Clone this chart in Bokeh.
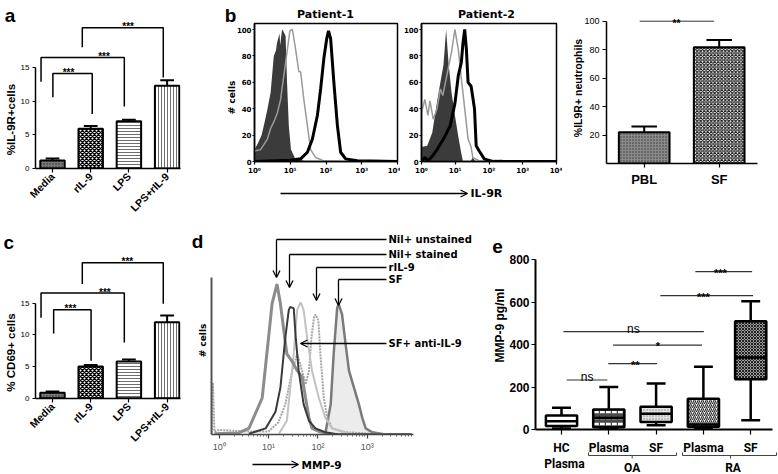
import math
from bokeh.plotting import figure
from bokeh.layouts import row, column
from bokeh.models import Range1d, FixedTicker, Label, Arrow, OpenHead, ColumnDataSource, GridBox
from bokeh.core.properties import value
from bokeh.embed import file_html
from bokeh.resources import INLINE

# ======================= DATA =======================
stim_categories = ["Media", "rIL-9", "LPS", "LPS+rIL-9"]
il9r_pct = [1.2, 5.9, 7.0, 12.3]
il9r_sem = [0.3, 0.4, 0.25, 0.8]
cd69_pct = [0.85, 5.0, 5.8, 12.0]
cd69_sem = [0.2, 0.25, 0.3, 1.05]

# significance brackets: (left x, right x, top y, left-leg end y, right-leg end y, label x)
il9r_brackets = [
    (0.01, 1.04, 14.1, 10.6, 8.1, 0.42),
    (-0.30, 1.88, 16.5, 12.9, 9.2, 1.35),
    (0.78, 2.90, 20.9, 18.0, 13.5, 1.98),
]
cd69_brackets = [
    (0.03, 1.01, 13.95, 10.2, 5.9, 0.47),
    (-0.30, 1.88, 16.6, 12.7, 8.8, 1.37),
    (0.78, 2.90, 21.4, 18.05, 14.9, 1.96),
]
bracket_labels = ["***", "***", "***"]

neut_categories = ["PBL", "SF"]
neut_pct = [22.2, 81.8]
neut_sem = [4.0, 5.1]
neut_sig = (-0.06, 0.93, 100.0, 0.43, "**")

decade_ticks = [1, 10, 100, 1000, 10000]
decade_labels = ["10⁰", "10¹", "10²", "10³", "10⁴"]

# Patient-1 IL-9R histograms (log10 fluorescence, % of max)
p1_iso_log = [0.0, 0.1, 0.2, 0.26, 0.35, 0.45, 0.54, 0.6, 0.63, 0.7, 0.72, 0.77, 0.8, 0.87, 0.91, 0.96, 1.02, 1.14, 1.47]
p1_iso_pct = [9, 14, 20, 27, 38, 52, 80, 84, 90, 97, 88, 100, 99, 95, 60, 27, 9, 2, 0]
p1_unst_log = [0.0, 0.17, 0.36, 0.45, 0.54, 0.64, 0.73, 0.82, 0.92, 0.99, 1.06, 1.15, 1.24, 1.29, 1.38, 1.48, 1.57, 1.71, 1.94, 2.4]
p1_unst_pct = [8, 9, 17, 25, 30, 37, 47, 65, 85, 99, 100, 85, 68, 68, 47, 27, 9, 3, 0.5, 0]
p1_il9r_log = [0.0, 1.0, 1.29, 1.48, 1.62, 1.76, 1.85, 1.94, 2.02, 2.07, 2.13, 2.22, 2.32, 2.41, 2.55, 2.88, 4.0]
p1_il9r_pct = [0, 1, 2, 7, 17, 35, 55, 78, 93, 99, 93, 60, 27, 7, 2, 0.5, 0]

# Patient-2 IL-9R histograms
p2_iso_log = [0.0, 0.17, 0.32, 0.46, 0.56, 0.65, 0.73, 0.8, 0.89, 0.99, 1.09, 1.18, 1.23, 1.45, 1.52, 1.6]
p2_iso_pct = [11, 12, 22, 45, 60, 73, 100, 75, 52, 35, 19, 6, 0, 0, 3, 0]
p2_unst_log = [0.0, 0.1, 0.19, 0.25, 0.35, 0.46, 0.56, 0.63, 0.75, 0.89, 0.99, 1.09, 1.18, 1.28, 1.38, 1.47, 1.52, 1.71, 2.38, 2.5]
p2_unst_pct = [37, 47, 35, 46, 32, 40, 55, 50, 65, 83, 100, 85, 63, 40, 17, 11, 3, 0.5, 1, 0]
p2_il9r_log = [0.0, 0.1, 0.19, 0.32, 0.46, 0.65, 0.85, 0.99, 1.09, 1.18, 1.23, 1.28, 1.33, 1.38, 1.47, 1.57, 1.62, 1.71, 1.86, 2.1, 4.0]
p2_il9r_pct = [0, 3, 0.5, 4, 9, 17, 27, 44, 65, 75, 90, 100, 85, 60, 57, 40, 12, 8, 2, 0, 0]

# MMP-9 histograms (log10 fluorescence, % of max)
mmp_unst_log = [-0.1, 0.39, 0.6, 0.87, 1.0, 1.07, 1.17, 1.24, 1.31, 1.37, 1.48, 1.58, 1.68, 1.75, 1.82, 1.88, 2.02, 2.29, 3.9]
mmp_unst_pct = [0.5, 1, 4, 24, 64, 86, 99, 86, 68, 53, 48, 42, 38, 24, 11, 4, 2, 0, 0]
mmp_stain_log = [0.6, 0.94, 1.14, 1.24, 1.34, 1.41, 1.44, 1.51, 1.55, 1.61, 1.71, 1.82, 1.95, 2.15, 2.42, 3.9]
mmp_stain_pct = [0.5, 4, 15, 31, 64, 82, 84, 83, 64, 42, 20, 9, 4, 1.5, 0, 0]
mmp_ril9_log = [-0.16, -0.13, -0.1, 0.0, 0.5, 1.0, 1.2, 1.34, 1.48, 1.58, 1.68, 1.75, 1.82, 1.87, 1.92, 1.95, 2.01, 2.05, 2.12, 2.19, 2.29, 2.56, 3.1, 3.78]
mmp_ril9_pct = [1, 34, 2, 3, 2, 2, 8, 20, 42, 53, 42, 33, 42, 64, 77, 79, 75, 53, 24, 11, 4, 1.5, 0.5, 0]
mmp_anti_log = [1.21, 1.37, 1.44, 1.51, 1.58, 1.65, 1.71, 1.78, 1.88, 2.02, 2.15, 2.29, 2.56, 2.8]
mmp_anti_pct = [0.5, 9, 31, 53, 82, 87, 82, 64, 42, 24, 11, 4, 1, 0]
mmp_sf_log = [2.15, 2.26, 2.32, 2.39, 2.42, 2.49, 2.56, 2.63, 2.73, 2.83, 2.9, 2.97, 3.1, 3.37]
mmp_sf_pct = [0.5, 20, 53, 83, 86, 79, 60, 42, 31, 20, 11, 4, 1.5, 0]
mmp_callouts = ["Nil+ unstained", "Nil+ stained", "rIL-9", "SF", "SF+ anti-IL-9"]

# MMP-9 pg/ml box plot
mmp9_groups = ["HC Plasma", "OA Plasma", "OA SF", "RA Plasma", "RA SF"]
mmp9_tick_labels = ["HC", "Plasma", "SF", "Plasma", "SF"]
mmp9_min = [5, 3, 20, 3, 43]
mmp9_q1 = [16, 11, 35, 13, 236]
mmp9_med = [39, 55, 74, 24, 339]
mmp9_q3 = [66, 94, 107, 145, 509]
mmp9_max = [102, 200, 216, 295, 603]
# (left x, right x, y, label, label x)
mmp9_sig = [
    (0.11, 0.97, 233, "ns", 0.54),
    (0.99, 2.02, 310, "**", 1.56),
    (1.09, 2.97, 397, "*", 2.04),
    (0.04, 3.01, 461, "ns", 1.52),
    (2.09, 4.05, 630, "***", 3.00),
    (2.83, 4.03, 743, "***", 3.36),
]

# ======================= LAYOUT HELPERS =======================
PW, PH = 778, 474
FONT = "Liberation Sans"
FLOW = "DejaVu Sans"


def no_align(f):
    try:
        f.frame_align = False
    except AttributeError:
        pass


class Panel:
    def __init__(self, L, T, W, H, frame, xmap, ymap, xlog=False):
        fl, ft, fr, fb = [int(round(v)) for v in frame]
        x0, x1 = xmap(fl), xmap(fr)
        y0, y1 = ymap(fb), ymap(ft)
        kw = {}
        if xlog:
            kw["x_axis_type"] = "log"
            xr = Range1d(10 ** x0, 10 ** x1)
        else:
            xr = Range1d(x0, x1)
        f = figure(width=W, height=H, x_range=xr, y_range=Range1d(y0, y1),
                   output_backend="svg", toolbar_location=None,
                   min_border_left=fl - L, min_border_right=L + W - fr,
                   min_border_top=ft - T, min_border_bottom=T + H - fb, **kw)
        no_align(f)
        f.grid.visible = False
        f.outline_line_color = None
        f.background_fill_color = "white"
        f.border_fill_color = "white"
        for ax in (f.xaxis[0], f.yaxis[0]):
            ax.axis_line_color = "black"
            ax.axis_line_width = 1.5
            ax.major_tick_line_color = "black"
            ax.major_tick_line_width = 1.2
            ax.major_tick_in = 0
            ax.minor_tick_line_color = None
            ax.major_label_text_font = FONT
            ax.major_label_text_color = "black"
        self.fig = f


# overlay figure for all free text / arrows (page pixel coordinates)
ov = figure(width=PW, height=PH, x_range=Range1d(0, PW), y_range=Range1d(0, PH),
            x_axis_location=None, y_axis_location=None, toolbar_location=None,
            output_backend="svg", min_border_left=0, min_border_right=0,
            min_border_top=0, min_border_bottom=0)
no_align(ov)
ov.grid.visible = False
ov.outline_line_color = None
ov.background_fill_alpha = 0
ov.border_fill_alpha = 0


def T(s, x, y, size, font=FONT, bold=True, angle=0.0, align="center", baseline="middle", color="black"):
    ov.text(x=[x], y=[PH - y], text=[s], text_font=value(font), text_font_size=value(f"{size}px"),
            text_font_style=value("bold" if bold else "normal"), angle=angle,
            text_align=value(align), text_baseline=value(baseline), text_color=color)


def A(x0, y0, x1, y1, head=True, w=1.3, color="black"):
    ov.add_layout(Arrow(x_start=x0, y_start=PH - y0, x_end=x1, y_end=PH - y1, start=None,
                        end=OpenHead(size=7, line_width=w, line_color=color) if head else None,
                        line_width=w, line_color=color))


def sig_label(f, x, y, text, size, bold=True, yoff=0):
    f.add_layout(Label(x=x, y=y, text=text, text_font=FONT, text_font_size=f"{size}px",
                       text_font_style="bold" if bold else "normal", text_align="center",
                       text_baseline="alphabetic", y_offset=yoff, text_color="black"))


def bar_panel(p, cats, vals, errs, brackets, bar_styles, width, cap):
    f = p.fig
    xs = list(range(len(cats)))
    src = ColumnDataSource(dict(
        x=xs, top=vals,
        fill=[s[0] for s in bar_styles], hatch=[s[1] for s in bar_styles],
        hcol=[s[2] for s in bar_styles], hscale=[s[3] for s in bar_styles],
        hweight=[s[4] for s in bar_styles]))
    ups = [v + e for v, e in zip(vals, errs)]
    f.segment(x0=xs, y0=vals, x1=xs, y1=ups, line_color="black", line_width=2)
    f.segment(x0=[x - cap for x in xs], y0=ups, x1=[x + cap for x in xs], y1=ups,
              line_color="black", line_width=2)
    f.vbar(x="x", top="top", bottom=0, width=width, source=src, fill_color="fill",
           hatch_pattern="hatch", hatch_color="hcol", hatch_scale="hscale",
           hatch_weight="hweight", line_color="black", line_width=2)
    if brackets:
        bx, by = [], []
        for (xl, xr, top, lb, rb, sx), lab in zip(brackets, bracket_labels):
            bx.append([xl, xl, xr, xr])
            by.append([lb, top, top, rb])
            sig_label(f, sx, top, lab, 10, yoff=1)
        f.multi_line(bx, by, line_color="black", line_width=1.5)
    f.xaxis.ticker = FixedTicker(ticks=xs)
    f.xaxis.major_label_overrides = {i: c for i, c in enumerate(cats)}
    return f


stim_styles = [
    ("#7a7a7a", "dot", "#2a2a2a", 3, 1.0),
    ("white", "diagonal_cross", "black", 4, 1.4),
    ("white", "horizontal_line", "#6e6e6e", 3, 1.0),
    ("white", "vertical_line", "#6e6e6e", 3, 1.0),
]

LEFT_W = 191
A_H = 244
TOP_H, BOT_H = 228, 246

# ---------------- panel a ----------------
pa = Panel(0, 0, LEFT_W, A_H, (35, 15, 180, 168), lambda px: (px - 52) / 38.2, lambda py: (168 - py) / 6.733)
fa = bar_panel(pa, stim_categories, il9r_pct, il9r_sem, il9r_brackets, stim_styles, 0.64, 0.18)
# ---------------- panel c ----------------
pc = Panel(0, A_H, LEFT_W, PH - A_H, (35, 248, 180, 398), lambda px: (px - 52) / 38.2, lambda py: (397.7 - py) / 6.333)
fc = bar_panel(pc, stim_categories, cd69_pct, cd69_sem, cd69_brackets, stim_styles, 0.64, 0.18)
for f in (fa, fc):
    f.yaxis.ticker = FixedTicker(ticks=[0, 5, 10, 15])
    f.yaxis.bounds = (0, 15)
    f.yaxis.major_label_text_font_size = "8px"
    f.yaxis.major_label_standoff = 3
    f.yaxis.major_tick_out = 3
    f.xaxis.major_label_orientation = math.pi / 4
    f.xaxis.major_label_text_font_size = "10.5px"
    f.xaxis.major_label_text_font_style = "bold"
    f.xaxis.major_tick_out = 4
    f.xaxis.major_label_standoff = 2
T("%IL-9R+cells", 10, 119, 11.5, angle=math.pi / 2)
T("% CD69+ cells", 10, 352, 11.5, angle=math.pi / 2)
T("a", 9.5, 15, 19, baseline="alphabetic")
T("c", 8.3, 242, 19, baseline="alphabetic")


# ---------------- panel b histograms ----------------
def hist_panel(p, iso, unst, il9r):
    f = p.fig
    f.varea(x=[10 ** v for v in iso[0]], y1=0, y2=iso[1], fill_color="#3b3b3b")
    f.line([10 ** v for v in unst[0]], unst[1], line_color="#9a9a9a", line_width=1.5)
    f.line([10 ** v for v in il9r[0]], il9r[1], line_color="black", line_width=3)
    f.outline_line_color = "black"
    f.outline_line_width = 1.5
    f.yaxis.ticker = FixedTicker(ticks=[0, 20, 40, 60, 80, 100])
    f.yaxis.major_label_text_font = FLOW
    f.yaxis.major_label_text_font_size = "7px"
    f.yaxis.major_label_text_font_style = "bold"
    f.yaxis.major_label_standoff = 1
    f.yaxis.major_tick_out = 2
    f.xaxis.ticker = FixedTicker(ticks=decade_ticks)
    f.xaxis.major_label_overrides = dict(zip(decade_ticks, decade_labels))
    f.xaxis.major_label_text_font = FLOW
    f.xaxis.major_label_text_font_size = "7px"
    f.xaxis.major_label_text_font_style = "bold"
    f.xaxis.major_label_standoff = 2
    f.xaxis.major_tick_out = 3
    return f


pb1 = Panel(LEFT_W, 0, 400 - LEFT_W, TOP_H, (254, 23, 397, 161), lambda px: (px - 254) / 35.75, lambda py: (161 - py) / 1.32, xlog=True)
fb1 = hist_panel(pb1, (p1_iso_log, p1_iso_pct), (p1_unst_log, p1_unst_pct), (p1_il9r_log, p1_il9r_pct))
pb2 = Panel(400, 0, 162, TOP_H, (417, 23, 556, 161), lambda px: (px - 417) / 34.75, lambda py: (161 - py) / 1.32, xlog=True)
fb2 = hist_panel(pb2, (p2_iso_log, p2_iso_pct), (p2_unst_log, p2_unst_pct), (p2_il9r_log, p2_il9r_pct))
T("b", 230, 15, 19, baseline="alphabetic")
T("Patient-1", 325, 14, 11, font=FLOW)
T("Patient-2", 486, 14, 11, font=FLOW)
T("# cells", 231, 97, 9, font=FLOW, angle=math.pi / 2)
A(280, 193, 467, 193)
T("IL-9R", 470, 193, 11, font=FLOW, align="left")

# ---------------- panel b bar chart ----------------
pb3 = Panel(562, 0, 216, TOP_H, (606, 10, 757, 163.3), lambda px: (px - 643.7) / 75.0, lambda py: (163.3 - py) / 1.426)
neut_styles = [("#8a8a8a", "dot", "#333333", 3, 1.0), ("white", "diagonal_cross", "#222222", 3.5, 1.2)]
fb3 = bar_panel(pb3, neut_categories, neut_pct, neut_sem, None, neut_styles, 0.676, 0.17)
fb3.segment(x0=[neut_sig[0]], y0=[neut_sig[2]], x1=[neut_sig[1]], y1=[neut_sig[2]], line_color="#333", line_width=1)
sig_label(fb3, neut_sig[3], neut_sig[2], neut_sig[4], 10, yoff=-2)
fb3.yaxis.ticker = FixedTicker(ticks=[0, 20, 40, 60, 80, 100])
fb3.yaxis.bounds = (0, 100)
fb3.yaxis.major_label_text_font_size = "9px"
fb3.yaxis.major_label_standoff = 3
fb3.yaxis.major_tick_out = 4
fb3.xaxis.major_label_text_font_size = "13px"
fb3.xaxis.major_label_text_font_style = "bold"
fb3.xaxis.major_tick_out = 4
fb3.xaxis.major_label_standoff = 4
T("%IL9R+ neutrophils", 577, 87.5, 10.5, angle=math.pi / 2)

# ---------------- panel d ----------------
pd_ = Panel(LEFT_W, TOP_H, 492 - LEFT_W, BOT_H, (211, 277, 413, 434), lambda px: (px - 218.8) / 49.3, lambda py: (434 - py) / 1.52, xlog=True)
fd = pd_.fig
fd.varea(x=[10 ** v for v in mmp_sf_log], y1=0, y2=mmp_sf_pct, fill_color="#ececec")
fd.line([10 ** v for v in mmp_sf_log], mmp_sf_pct, line_color="#7a7a7a", line_width=2.5)
fd.line([10 ** v for v in mmp_ril9_log], mmp_ril9_pct, line_color="#a5a5a5", line_width=2, line_dash="2 1")
fd.line([10 ** v for v in mmp_anti_log], mmp_anti_pct, line_color="#c2c2c2", line_width=2)
fd.line([10 ** v for v in mmp_unst_log], mmp_unst_pct, line_color="#8c8c8c", line_width=3)
fd.line([10 ** v for v in mmp_stain_log], mmp_stain_pct, line_color="#3a3a3a", line_width=2)
fd.xaxis.ticker = FixedTicker(ticks=decade_ticks, minor_ticks=[k * 10 ** d for d in range(4) for k in range(2, 10)])
fd.xaxis.major_label_overrides = dict(zip(decade_ticks, decade_labels))
fd.xaxis.major_label_text_font_size = "9px"
fd.xaxis.major_label_text_color = "#555"
fd.xaxis.axis_line_color = "#444"
fd.xaxis.major_tick_line_color = "#444"
fd.xaxis.minor_tick_line_color = "#666"
fd.xaxis.minor_tick_out = 2
fd.xaxis.minor_tick_in = 0
fd.xaxis.major_tick_out = 4
fd.xaxis.major_label_standoff = 3
fd.xaxis.bounds = (10 ** -0.16, 10 ** 3.95)
fd.yaxis.ticker = FixedTicker(ticks=[])
fd.yaxis.axis_line_color = "#555"
fd.yaxis.axis_line_width = 2
T("d", 197, 241, 19, baseline="alphabetic")
T("# cells", 202, 340, 9, font=FLOW, angle=math.pi / 2)
A(252, 464, 298, 464)
T("MMP-9", 301, 464, 10.5, font=FLOW, align="left")
callout_geo = [(239, 276, 277), (254, 289, 287), (267, 316, 300), (279, 338, 305)]
for name, (ly, ax_, ay) in zip(mmp_callouts[:4], callout_geo):
    A(386, ly, ax_, ly, head=False)
    A(ax_, ly, ax_, ay)
    T(name, 388, ly, 10, font=FLOW, align="left")
A(386, 343, 300, 343)
T(mmp_callouts[4], 388, 343, 10, font=FLOW, align="left")

# ---------------- panel e ----------------
pe = Panel(492, TOP_H, 286, BOT_H, (535, 255, 772, 429), lambda px: (px - 561) / 47.3, lambda py: (429 - py) / 0.2125)
fe = pe.fig
ex = list(range(len(mmp9_groups)))
box_styles = [
    ("white", "blank", "black", 4, 1.0),
    ("#4a4a4a", "horizontal_dash", "white", 6, 2.5),
    ("#e2e2e2", "dot", "#8a8a8a", 3, 1.0),
    ("white", "right_diagonal_line", "#333333", 4, 1.2),
    ("#9a9a9a", "diagonal_cross", "#222222", 3, 1.0),
]
hw, cw = 0.33, 0.2
fe.segment(x0=ex, y0=mmp9_q3, x1=ex, y1=mmp9_max, line_color="black", line_width=2.5)
fe.segment(x0=ex, y0=mmp9_min, x1=ex, y1=mmp9_q1, line_color="black", line_width=2.5)
fe.segment(x0=[x - cw for x in ex], y0=mmp9_max, x1=[x + cw for x in ex], y1=mmp9_max, line_color="black", line_width=2.5)
fe.segment(x0=[x - cw for x in ex], y0=mmp9_min, x1=[x + cw for x in ex], y1=mmp9_min, line_color="black", line_width=2.5)
esrc = ColumnDataSource(dict(
    x=ex, bottom=mmp9_q1, top=mmp9_q3,
    fill=[s[0] for s in box_styles], hatch=[s[1] for s in box_styles], hcol=[s[2] for s in box_styles],
    hscale=[s[3] for s in box_styles], hweight=[s[4] for s in box_styles]))
fe.vbar(x="x", bottom="bottom", top="top", width=2 * hw, source=esrc, fill_color="fill",
        hatch_pattern="hatch", hatch_color="hcol", hatch_scale="hscale", hatch_weight="hweight",
        line_color="black", line_width=2.5)
fe.segment(x0=[x - hw for x in ex], y0=mmp9_med, x1=[x + hw for x in ex], y1=mmp9_med, line_color="black", line_width=2.5)
fe.segment(x0=[s[0] for s in mmp9_sig], y0=[s[2] for s in mmp9_sig], x1=[s[1] for s in mmp9_sig],
           y1=[s[2] for s in mmp9_sig], line_color="#333", line_width=1.2)
for xl, xr, yy, lab, lx in mmp9_sig:
    ns = lab == "ns"
    sig_label(fe, lx, yy, lab, 12 if ns else 11, bold=not ns, yoff=3 if ns else -1)
fe.yaxis.ticker = FixedTicker(ticks=[0, 200, 400, 600, 800])
fe.yaxis.bounds = (0, 800)
fe.yaxis.major_label_text_font_size = "12px"
fe.yaxis.major_label_text_font_style = "bold"
fe.yaxis.major_tick_out = 4
fe.yaxis.major_label_standoff = 2
fe.yaxis.axis_line_width = 2
fe.xaxis.axis_line_width = 2
fe.xaxis.ticker = FixedTicker(ticks=ex)
fe.xaxis.major_label_overrides = dict(zip(ex, mmp9_tick_labels))
fe.xaxis.major_label_text_font = "Roboto"
fe.xaxis.major_label_text_font_size = "12px"
fe.xaxis.major_label_text_font_style = "bold"
fe.xaxis.major_tick_out = 5
fe.xaxis.major_label_standoff = 6
T("e", 497, 246, 19, baseline="alphabetic")
T("MMP-9 pg/ml", 499, 325, 12, angle=math.pi / 2)
EF = "Roboto"
T("Plasma", 564, 463, 12, font=EF)
T("OA", 631.7, 467, 12, font=EF)
T("RA", 732.5, 467, 12, font=EF)
for x0, x1, xm in ((588, 676, 631.7), (682, 776, 730)):
    A(x0, 455, x1, 455, head=False, w=1, color="#444")
    A(x0, 455, x0, 452, head=False, w=1, color="#444")
    A(x1, 455, x1, 452, head=False, w=1, color="#444")
    A(xm, 455, xm, 458, head=False, w=1, color="#444")

left = column(fa, fc)
right = column(row(fb1, fb2, fb3), row(fd, fe))
main = row(left, right)
root = GridBox(children=[(main, 0, 0), (ov, 0, 0)])
open("out.html", "w").write(file_html(root, INLINE))
